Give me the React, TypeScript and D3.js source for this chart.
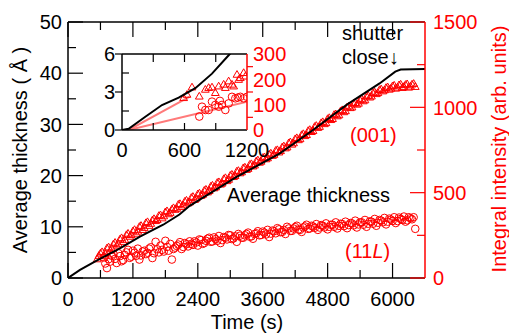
import React from 'react';
import * as d3 from 'd3';

// ---------- main plot data ----------
const thickT = [0, 222, 529, 960, 1330, 1760, 2060, 2250, 3110, 3910, 4530, 5150, 5760, 6050, 6150, 6600];
const thickV = [0, 1.6, 3.4, 5.8, 8.1, 10.4, 12.4, 14.1, 19.7, 24.3, 28.9, 33.8, 38.0, 40.3, 40.7, 40.8];

const tri001T = [540, 600, 660, 720, 780, 840, 900, 960, 1020, 1080, 1140, 1200, 1260, 1320, 1380, 1440, 1500, 1560, 1620, 1680, 1740, 1800, 1860, 1920, 1980, 2040, 2100, 2160, 2220, 2280, 2340, 2400, 2460, 2520, 2580, 2640, 2700, 2760, 2820, 2880, 2940, 3000, 3060, 3120, 3180, 3240, 3300, 3360, 3420, 3480, 3540, 3600, 3660, 3720, 3780, 3840, 3900, 3960, 4020, 4080, 4140, 4200, 4260, 4320, 4380, 4440, 4500, 4560, 4620, 4680, 4740, 4800, 4860, 4920, 4980, 5040, 5100, 5160, 5220, 5280, 5340, 5400, 5460, 5520, 5580, 5640, 5700, 5760, 5820, 5880, 5940, 6000, 6060, 6120, 6180, 6240, 6300, 6360, 6420];
const tri001V = [108, 142, 126, 172, 158, 196, 188, 224, 210, 250, 240, 272, 258, 298, 280, 320, 304, 336, 332, 362, 348, 384, 372, 400, 398, 428, 414, 446, 436, 468, 456, 489, 480, 510, 500, 534, 524, 556, 546, 578, 566, 598, 590, 622, 612, 642, 632, 662, 652, 682, 674, 702, 694, 722, 714, 744, 734, 764, 758, 788, 780, 812, 806, 836, 830, 860, 854, 884, 878, 906, 900, 930, 924, 954, 946, 976, 970, 998, 994, 1020, 1014, 1040, 1034, 1062, 1056, 1082, 1076, 1100, 1092, 1112, 1102, 1122, 1108, 1128, 1112, 1130, 1114, 1132, 1118];

const tri001bT = [570, 630, 690, 750, 810, 870, 930, 990, 1050, 1110, 1170, 1230, 1290, 1350, 1410, 1470, 1530, 1590, 1650, 1710, 1770, 1830, 1890, 1950, 2010, 2070, 2130, 2190, 2250, 2310, 2370, 2430, 2490, 2550, 2610, 2670, 2730, 2790, 2850, 2910, 2970, 3030, 3090, 3150, 3210, 3270, 3330, 3390, 3450, 3510, 3570, 3630, 3690, 3750, 3810, 3870, 3930, 3990, 4050, 4110, 4170, 4230, 4290, 4350, 4410, 4470, 4530, 4590, 4650, 4710, 4770, 4830, 4890, 4950, 5010, 5070, 5130, 5190, 5250, 5310, 5370, 5430, 5490, 5550, 5610, 5670, 5730, 5790, 5850, 5910, 5970, 6030, 6090, 6150, 6210, 6270, 6330, 6390];
const tri001bV = [128, 150, 140, 178, 170, 205, 196, 232, 222, 258, 250, 280, 270, 304, 292, 326, 316, 344, 338, 366, 360, 390, 380, 408, 404, 432, 424, 452, 442, 474, 464, 494, 486, 516, 508, 540, 530, 560, 552, 584, 574, 604, 596, 626, 618, 646, 638, 666, 658, 688, 680, 706, 700, 728, 720, 748, 742, 770, 764, 794, 788, 818, 812, 842, 836, 866, 860, 890, 884, 912, 906, 936, 930, 958, 952, 982, 976, 1004, 998, 1024, 1020, 1046, 1040, 1066, 1062, 1086, 1082, 1104, 1098, 1116, 1108, 1126, 1114, 1132, 1118, 1134, 1120, 1136];

const circ11LT = [660, 720, 780, 840, 900, 960, 1020, 1080, 1140, 1200, 1260, 1320, 1380, 1440, 1500, 1560, 1620, 1680, 1740, 1800, 1860, 1920, 1980, 2040, 2100, 2160, 2220, 2280, 2340, 2400, 2460, 2520, 2580, 2640, 2700, 2760, 2820, 2880, 2940, 3000, 3060, 3120, 3180, 3240, 3300, 3360, 3420, 3480, 3540, 3600, 3660, 3720, 3780, 3840, 3900, 3960, 4020, 4080, 4140, 4200, 4260, 4320, 4380, 4440, 4500, 4560, 4620, 4680, 4740, 4800, 4860, 4920, 4980, 5040, 5100, 5160, 5220, 5280, 5340, 5400, 5460, 5520, 5580, 5640, 5700, 5760, 5820, 5880, 5940, 6000, 6060, 6120, 6180, 6240, 6300, 6360, 6420];
const circ11LV = [120, 58, 96, 142, 88, 128, 105, 150, 118, 160, 130, 108, 155, 140, 172, 117, 212, 150, 165, 218, 160, 108, 178, 196, 170, 205, 185, 200, 215, 190, 222, 205, 230, 212, 238, 218, 205, 240, 226, 250, 232, 212, 248, 236, 258, 242, 230, 262, 250, 272, 255, 240, 278, 262, 285, 270, 258, 290, 276, 298, 284, 270, 302, 288, 306, 294, 282, 310, 296, 285, 312, 300, 290, 318, 304, 292, 322, 308, 296, 326, 312, 300, 332, 318, 306, 340, 326, 314, 348, 334, 322, 354, 340, 330, 356, 344, 288];

const circ11LbT = [690, 750, 810, 870, 930, 990, 1050, 1110, 1170, 1230, 1290, 1350, 1410, 1470, 1530, 1590, 1650, 1710, 1770, 1830, 1890, 1950, 2010, 2070, 2130, 2190, 2250, 2310, 2370, 2430, 2490, 2550, 2610, 2670, 2730, 2790, 2850, 2910, 2970, 3030, 3090, 3150, 3210, 3270, 3330, 3390, 3450, 3510, 3570, 3630, 3690, 3750, 3810, 3870, 3930, 3990, 4050, 4110, 4170, 4230, 4290, 4350, 4410, 4470, 4530, 4590, 4650, 4710, 4770, 4830, 4890, 4950, 5010, 5070, 5130, 5190, 5250, 5310, 5370, 5430, 5490, 5550, 5610, 5670, 5730, 5790, 5850, 5910, 5970, 6030, 6090, 6150, 6210, 6270, 6330, 6390];
const circ11LbV = [85, 110, 130, 112, 145, 98, 135, 165, 125, 148, 172, 132, 160, 148, 180, 145, 168, 190, 155, 182, 200, 170, 188, 210, 182, 198, 215, 194, 208, 226, 200, 218, 236, 214, 228, 246, 222, 236, 252, 228, 244, 258, 236, 250, 266, 244, 258, 274, 252, 266, 282, 260, 274, 292, 268, 282, 300, 276, 290, 306, 282, 296, 312, 290, 302, 316, 296, 306, 320, 300, 312, 326, 306, 316, 330, 310, 320, 336, 314, 326, 340, 318, 330, 346, 324, 336, 352, 330, 342, 356, 334, 346, 360, 338, 350, 356];

// ---------- inset data ----------
const insThickT = [0, 64, 224, 384, 544, 704, 864, 1024, 1080];
const insThickV = [0, 0.1, 1.05, 1.97, 2.55, 3.3, 4.45, 5.9, 6.4];

const insTriT = [592, 624, 672, 742, 800, 832, 864, 896, 928, 976, 992, 1024, 1056, 1072, 1104, 1120, 1136, 1168, 1184];
const insTriV = [125, 138, 167, 131, 158, 165, 167, 145, 171, 178, 165, 191, 178, 171, 217, 197, 204, 224, 210];

const insCircT = [742, 768, 800, 832, 864, 896, 928, 940, 960, 992, 1024, 1056, 1088, 1112, 1136, 1168, 1200];
const insCircV = [53, 92, 79, 79, 112, 99, 92, 115, 99, 79, 105, 131, 125, 128, 131, 125, 131];

const insFitUpperT = [64, 650];
const insFitUpperV = [0, 132];
const insFitLowerT = [64, 1200];
const insFitLowerV = [0, 112];

// ---------- ticks ----------
const xTickLabels = [0, 1200, 2400, 3600, 4800, 6000];
const xMinorTicks = [600, 1800, 3000, 4200, 5400];
const yLeftLabels = [0, 10, 20, 30, 40, 50];
const yLeftMinor = [5, 15, 25, 35, 45];
const yRightLabels = [0, 500, 1000, 1500];
const yRightMinor = [250, 750, 1250];
const insXLabels = [0, 600, 1200];
const insXTicks = [300, 600, 900];
const insYLeftLabels = [0, 3, 6];
const insYLeftMinor = [1.5, 4.5];
const insYRightLabels = [0, 100, 200, 300];
const insYRightMinor = [50, 150, 250];

const RED = '#ff0000';
const FONT = '"Liberation Sans", Arial, Helvetica, sans-serif';

export default function App() {
  const W = 509, H = 333;
  const L = 68, R = 425, T = 22, B = 278;
  const x = d3.scaleLinear().domain([0, 6600]).range([L, R]);
  const yL = d3.scaleLinear().domain([0, 50]).range([B, T]);
  const yR = d3.scaleLinear().domain([0, 1500]).range([B, T]);

  const iL = 122, iR = 247, iT = 54, iB = 130;
  const ix = d3.scaleLinear().domain([0, 1200]).range([iL, iR]);
  const iyL = d3.scaleLinear().domain([0, 6]).range([iB, iT]);
  const iyR = d3.scaleLinear().domain([0, 300]).range([iB, iT]);

  const tri = d3.symbol().type(d3.symbolTriangle).size(26)() as string;

  const thickLine = d3.line<number>().x((_, i) => x(thickT[i])).y((d) => yL(d))(thickV) as string;
  const insLine = d3.line<number>().x((_, i) => ix(insThickT[i])).y((d) => iyL(d))(insThickV) as string;
  const fitU = d3.line<number>().x((_, i) => ix(insFitUpperT[i])).y((d) => iyR(d))(insFitUpperV) as string;
  const fitL = d3.line<number>().x((_, i) => ix(insFitLowerT[i])).y((d) => iyR(d))(insFitLowerV) as string;

  const fs = 20;
  const triSets: [number[], number[]][] = [[tri001T, tri001V], [tri001bT, tri001bV]];
  const circSets: [number[], number[]][] = [[circ11LT, circ11LV], [circ11LbT, circ11LbV]];
  return (
    <svg width={W} height={H} style={{ position: 'absolute', left: 0, top: 0, background: '#fff' }} fontFamily={FONT}>
      <defs>
        <clipPath id="mainclip"><rect x={L} y={T} width={R - L} height={B - T} /></clipPath>
        <clipPath id="insclip"><rect x={iL} y={iT} width={iR - iL} height={iB - iT} /></clipPath>
      </defs>

      {/* main data */}
      <g clipPath="url(#mainclip)">
        {circSets.map(([ts, vs], s) =>
          vs.map((v, i) => (
            <circle key={'c' + s + '-' + i} cx={x(ts[i])} cy={yR(v)} r={3.8} fill="none" stroke={RED} strokeWidth={1} />
          ))
        )}
        {triSets.map(([ts, vs], s) =>
          vs.map((v, i) => (
            <path key={'t' + s + '-' + i} d={tri} transform={`translate(${x(ts[i])},${yR(v)})`} fill="none" stroke={RED} strokeWidth={1} />
          ))
        )}
        <path d={thickLine} fill="none" stroke="#000" strokeWidth={2} />
      </g>

      {/* main frame */}
      <line x1={L} y1={T} x2={L} y2={B} stroke="#000" strokeWidth={1.5} />
      <line x1={L} y1={B} x2={R} y2={B} stroke="#000" strokeWidth={1.5} />
      <line x1={L} y1={T} x2={R} y2={T} stroke="#000" strokeWidth={1.5} />
      <line x1={R} y1={T} x2={R} y2={B} stroke={RED} strokeWidth={1.5} />

      {/* x ticks */}
      {xTickLabels.map((t) => (
        <g key={'xt' + t}>
          <line x1={x(t)} x2={x(t)} y1={B} y2={B - 15} stroke="#000" strokeWidth={1.2} />
          <line x1={x(t)} x2={x(t)} y1={T} y2={T + 15} stroke="#000" strokeWidth={1.2} />
          <text x={x(t)} y={306} textAnchor="middle" fontSize={fs} fill="#000">{t}</text>
        </g>
      ))}
      {xMinorTicks.map((t) => (
        <g key={'xm' + t}>
          <line x1={x(t)} x2={x(t)} y1={B} y2={B - 8} stroke="#000" strokeWidth={1.2} />
          <line x1={x(t)} x2={x(t)} y1={T} y2={T + 8} stroke="#000" strokeWidth={1.2} />
        </g>
      ))}
      {/* left ticks */}
      {yLeftLabels.map((v) => (
        <g key={'yl' + v}>
          <line x1={L} x2={L + 15} y1={yL(v)} y2={yL(v)} stroke="#000" strokeWidth={1.2} />
          <text x={62} y={yL(v) + 7.2} textAnchor="end" fontSize={fs} fill="#000">{v}</text>
        </g>
      ))}
      {yLeftMinor.map((v) => (
        <line key={'ylm' + v} x1={L} x2={L + 8} y1={yL(v)} y2={yL(v)} stroke="#000" strokeWidth={1.2} />
      ))}
      {/* right ticks */}
      {yRightLabels.map((v) => (
        <g key={'yr' + v}>
          <line x1={R} x2={R - 15} y1={yR(v)} y2={yR(v)} stroke={RED} strokeWidth={1.2} />
          <text x={433} y={yR(v) + 7.2} textAnchor="start" fontSize={fs} fill={RED}>{v}</text>
        </g>
      ))}
      {yRightMinor.map((v) => (
        <line key={'yrm' + v} x1={R} x2={R - 8} y1={yR(v)} y2={yR(v)} stroke={RED} strokeWidth={1.2} />
      ))}

      {/* axis titles */}
      <text x={247} y={329} textAnchor="middle" fontSize={fs} fill="#000">Time (s)</text>
      <text transform="translate(26.5,150) rotate(-90)" textAnchor="middle" fontSize={fs} fill="#000">Average thickness ( Å )</text>
      <text transform="translate(506,149) rotate(-90)" textAnchor="middle" fontSize={fs} fill={RED}>Integral intensity (arb. units)</text>

      {/* annotations */}
      <text x={342} y={40} fontSize={fs} fill="#000">shutter</text>
      <text x={342} y={63.5} fontSize={fs} fill="#000">close↓</text>
      <text x={350} y={142} fontSize={fs} fill={RED}>(001)</text>
      <text x={227} y={201.5} fontSize={fs} fill="#000">Average thickness</text>
      <text x={345} y={258} fontSize={fs} fill={RED}>(11<tspan fontStyle="italic">L</tspan>)</text>

      {/* inset */}
      <rect x={iL} y={iT} width={iR - iL} height={iB - iT} fill="#fff" />
      <g clipPath="url(#insclip)">
        <path d={fitU} fill="none" stroke="#ff7a7a" strokeWidth={2} />
        <path d={fitL} fill="none" stroke="#ff7a7a" strokeWidth={2} />
        {insCircV.map((v, i) => (
          <circle key={'ic' + i} cx={ix(insCircT[i])} cy={iyR(v)} r={3.8} fill="none" stroke={RED} strokeWidth={1} />
        ))}
        {insTriV.map((v, i) => (
          <path key={'it' + i} d={tri} transform={`translate(${ix(insTriT[i])},${iyR(v)})`} fill="none" stroke={RED} strokeWidth={1} />
        ))}
        <path d={insLine} fill="none" stroke="#000" strokeWidth={2} />
      </g>
      <line x1={iL} y1={iT} x2={iL} y2={iB} stroke="#000" strokeWidth={1.5} />
      <line x1={iL} y1={iB} x2={iR} y2={iB} stroke="#000" strokeWidth={1.5} />
      <line x1={iL} y1={iT} x2={iR} y2={iT} stroke="#000" strokeWidth={1.5} />
      <line x1={iR} y1={iT} x2={iR} y2={iB} stroke={RED} strokeWidth={1.5} />
      {insXTicks.map((t) => (
        <g key={'ixt' + t}>
          <line x1={ix(t)} x2={ix(t)} y1={iB} y2={iB - 7} stroke="#000" strokeWidth={1.2} />
          <line x1={ix(t)} x2={ix(t)} y1={iT} y2={iT + 8} stroke="#000" strokeWidth={1.2} />
        </g>
      ))}
      {insXLabels.map((t) => (
        <text key={'ixl' + t} x={ix(t)} y={157} textAnchor="middle" fontSize={fs} fill="#000">{t}</text>
      ))}
      {insYLeftLabels.map((v) => (
        <g key={'iyl' + v}>
          <line x1={iL} x2={iL - 7} y1={iyL(v)} y2={iyL(v)} stroke="#000" strokeWidth={1.2} />
          <text x={115} y={iyL(v) + 7.2} textAnchor="end" fontSize={fs} fill="#000">{v}</text>
        </g>
      ))}
      {insYLeftMinor.map((v) => (
        <line key={'iylm' + v} x1={iL} x2={iL + 7} y1={iyL(v)} y2={iyL(v)} stroke="#000" strokeWidth={1.2} />
      ))}
      {insYRightLabels.map((v) => (
        <text key={'iyr' + v} x={253} y={iyR(v) + 7.2} textAnchor="start" fontSize={fs} fill={RED}>{v}</text>
      ))}
      {insYRightMinor.map((v) => (
        <line key={'iyrm' + v} x1={iR} x2={iR + 6} y1={iyR(v)} y2={iyR(v)} stroke={RED} strokeWidth={1.2} />
      ))}
    </svg>
  );
}
